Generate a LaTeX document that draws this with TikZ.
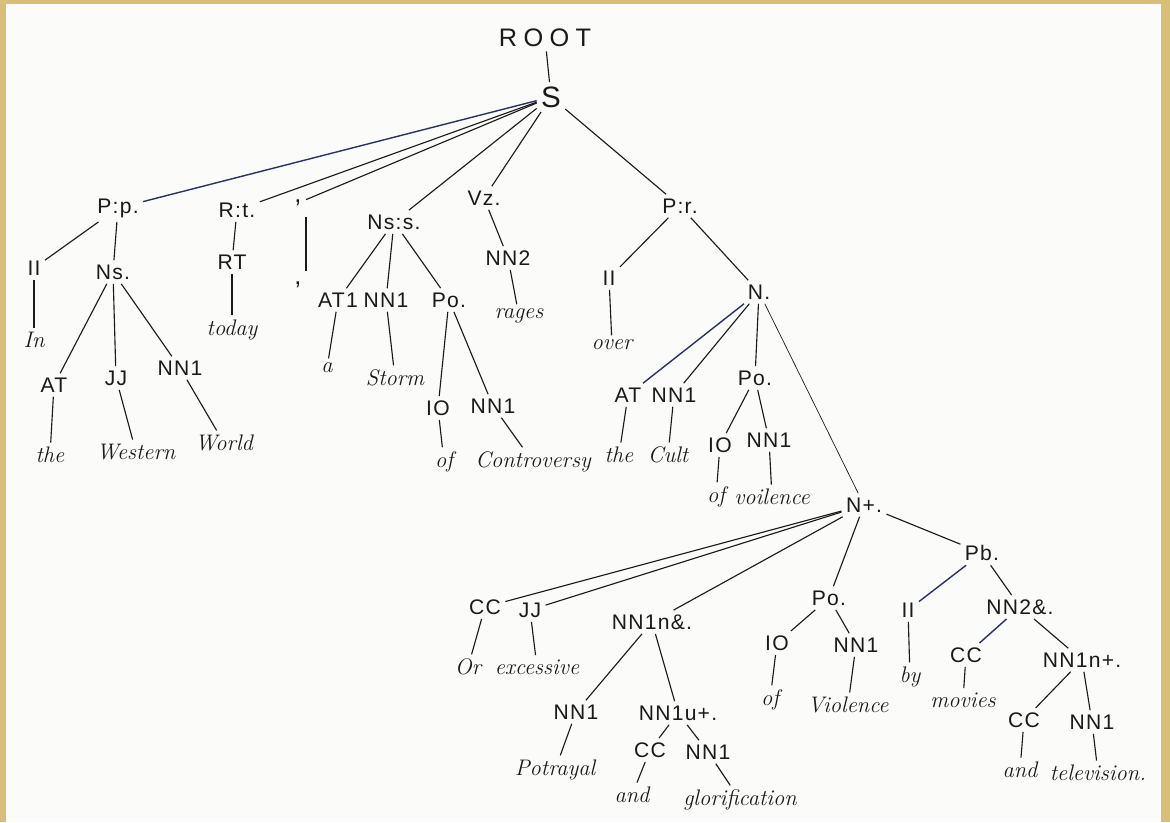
\documentclass[tikz,border=0pt]{standalone}
\usepackage{fontspec}
\usepackage{tikz}
\usetikzlibrary{positioning}
\newfontfamily\tagfont[LetterSpace=6]{Liberation Sans}
\newfontfamily\rootfont[LetterSpace=25]{Liberation Sans}
\definecolor{paper}{HTML}{FBFBF9}
\definecolor{wood}{HTML}{D8BF78}
\definecolor{ink}{HTML}{1A1A1A}
\definecolor{bluink}{HTML}{2A3260}
\tikzset{
  tag/.style={font=\tagfont\fontsize{15}{18}\selectfont, text=ink, inner sep=3pt},
  word/.style={font=\itshape\fontsize{16}{19}\selectfont, text=ink, inner sep=3pt},
  punct/.style={tag, font=\tagfont\fontsize{18}{20}\selectfont, minimum height=20pt},
  branch/.style={draw=ink, line width=0.8pt},
  penbranch/.style={draw=bluink, line width=1pt}
}

\begin{document}
\begin{tikzpicture}[x=0.025cm, y=-0.025cm]
  % sheet
  \fill[paper] (0,0) rectangle (1170,822);
  \useasboundingbox (0,0) rectangle (1170,822);
  \fill[wood] (0,0) rectangle (6,822);
  \fill[wood] (1161,0) rectangle (1170,822);
  \fill[wood] (0,0) rectangle (1170,4);

  % top
  \node[tag, font=\rootfont\fontsize{18}{21}\selectfont] (root) at (545,38) {ROOT};
  \node[tag, font=\tagfont\fontsize{21}{24}\selectfont] (S) at (551,97) {S};

  % first level
  \node[tag] (Pp)  at (118,208) {P:p.};
  \node[tag] (Rt)  at (237,210) {R:t.};
  \node[punct] (cma) at (298,203) {,};
  \node[tag] (Nss) at (394,222) {Ns:s.};
  \node[tag] (Vz)  at (484,198) {Vz.};
  \node[tag] (Pr)  at (680,206) {P:r.};

  % In the Western World
  \node[tag] (IIa) at (34,268) {II};
  \node[tag] (Ns)  at (113,272) {Ns.};
  \node[word] (In) at (34,340) {In};
  \node[tag] (ATa) at (54,385) {AT};
  \node[tag] (JJa) at (116,378) {JJ};
  \node[tag] (NNa) at (180,368) {NN1};
  \node[word] (the)     at (50,455) {the};
  \node[word] (Western) at (136,452) {Western};
  \node[word] (World)   at (224,443) {World};

  % today ,
  \node[tag] (RT) at (232,262) {RT};
  \node[word] (today) at (232,330) {today};
  \node[punct] (cmb) at (298,285) {,};

  % a Storm of Controversy
  \node[tag] (ATb) at (338,300) {AT1};
  \node[tag] (NNb) at (386,300) {NN1};
  \node[tag] (Poa) at (449,300) {Po.};
  \node[word] (a)     at (327,368) {a};
  \node[word] (Storm) at (395,378) {Storm};
  \node[tag] (IOa) at (438,408) {IO};
  \node[tag] (NNc) at (493,406) {NN1};
  \node[word] (ofa)         at (444,462) {of};
  \node[word] (Controversy) at (533,462) {Controversy};

  % rages
  \node[tag] (NNd) at (508,258) {NN2};
  \node[word] (rages) at (519,316) {rages};

  % over the Cult of voilence
  \node[tag] (IIb) at (609,278) {II};
  \node[tag] (N)   at (759,292) {N.};
  \node[word] (over) at (612,345) {over};
  \node[tag] (ATc) at (628,395) {AT};
  \node[tag] (NNe) at (674,395) {NN1};
  \node[tag] (Pob) at (755,378) {Po.};
  \node[word] (theb) at (619,455) {the};
  \node[word] (Cult) at (668,455) {Cult};
  \node[tag] (IOb) at (720,445) {IO};
  \node[tag] (NNf) at (769,440) {NN1};
  \node[word] (ofb)      at (716,497) {of};
  \node[word] (voilence) at (772,497) {voilence};

  % N+ conjunct
  \node[tag] (Np) at (864,505) {N+.};
  \node[tag] (CCa) at (485,607) {CC};
  \node[tag] (JJb) at (530,610) {JJ};
  \node[tag] (NNn) at (652,622) {NN1n\&.};
  \node[tag] (Poc) at (829,598) {Po.};
  \node[tag] (Pb)  at (982,553) {Pb.};
  \node[word] (Or)        at (468,667) {Or};
  \node[word] (excessive) at (537,667) {excessive};
  \node[tag] (NNg) at (576,712) {NN1};
  \node[tag] (NNu) at (678,713) {NN1u+.};
  \node[word] (Potrayal) at (555,770) {Potrayal};
  \node[tag] (CCb) at (650,750) {CC};
  \node[tag] (NNh) at (708,752) {NN1};
  \node[word] (anda)          at (632,795) {and};
  \node[word] (glorification) at (740,800) {glorification};
  \node[tag] (IOc) at (777,643) {IO};
  \node[tag] (NNi) at (856,645) {NN1};
  \node[word] (ofc)      at (770,700) {of};
  \node[word] (Violence) at (848,705) {Violence};
  \node[tag] (IIc) at (908,610) {II};
  \node[tag] (NNj) at (1020,607) {NN2\&.};
  \node[word] (by) at (910,677) {by};
  \node[tag] (CCc) at (966,655) {CC};
  \node[tag] (NNk) at (1082,660) {NN1n+.};
  \node[word] (movies) at (963,700) {movies};
  \node[tag] (CCd) at (1024,720) {CC};
  \node[tag] (NNl) at (1092,722) {NN1};
  \node[word] (andb)       at (1020,770) {and};
  \node[word] (television) at (1098,773) {television.};

  % branches
  \foreach \a/\b in {root/S, S/Rt, S/cma, S/Nss, S/Vz, S/Pr,
      Pp/IIa, Pp/Ns, IIa/In, Ns/ATa, Ns/JJa, Ns/NNa, ATa/the, JJa/Western, NNa/World,
      Rt/RT, RT/today,
      Nss/ATb, Nss/NNb, Nss/Poa, ATb/a, NNb/Storm, Poa/IOa, Poa/NNc, IOa/ofa, NNc/Controversy,
      Vz/NNd, NNd/rages,
      Pr/IIb, Pr/N, IIb/over, N/NNe, N/Pob, ATc/theb, NNe/Cult,
      Pob/IOb, Pob/NNf, IOb/ofb, NNf/voilence,
      Np/CCa, Np/JJb, Np/NNn, Np/Poc, Np/Pb,
      CCa/Or, JJb/excessive, NNn/NNg, NNn/NNu, NNg/Potrayal,
      NNu/CCb, NNu/NNh, CCb/anda, NNh/glorification,
      Poc/IOc, Poc/NNi, IOc/ofc, NNi/Violence,
      Pb/NNj, IIc/by, NNj/NNk, CCc/movies,
      NNk/CCd, NNk/NNl, CCd/andb, NNl/television}
    \draw[branch] (\a) -- (\b);
  \draw[branch] (cma.south east) -- (cmb.north east);
  \draw[branch, line width=0.5pt] (N) -- (Np);
  % pen strokes
  \foreach \a/\b in {S/Pp, N/ATc, Pb/IIc, NNj/CCc}
    \draw[penbranch] (\a) -- (\b);
\end{tikzpicture}
\end{document}
